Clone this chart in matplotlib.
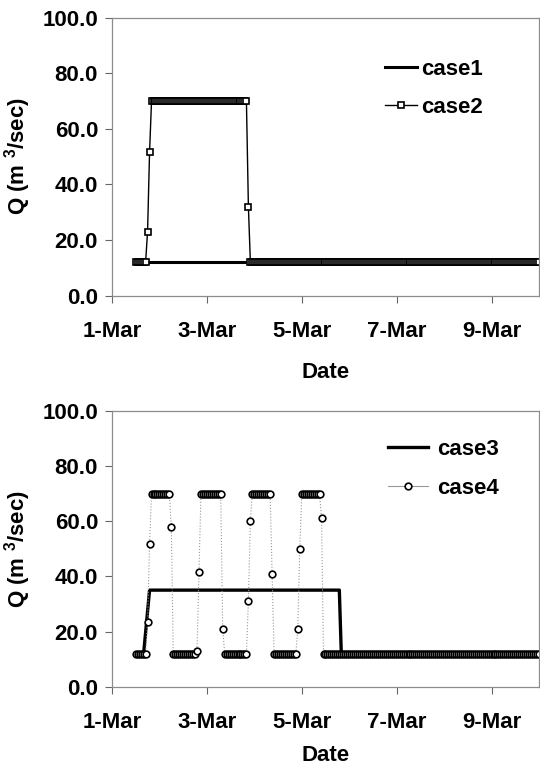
import numpy as np
import pandas as pd
import matplotlib
matplotlib.use("Agg")
import matplotlib.pyplot as plt
import matplotlib.dates as mdates
from matplotlib.ticker import FormatStrFormatter

plt.rcParams['font.family'] = ['Liberation Sans', 'DejaVu Sans']
plt.rcParams['font.weight'] = 'bold'
plt.rcParams['mathtext.fontset'] = 'custom'
plt.rcParams['mathtext.rm'] = 'Liberation Sans:bold'
plt.rcParams['mathtext.bf'] = 'Liberation Sans:bold'

# hourly series, stored as runs: (level, number of hourly readings)
start = '2000-03-01 12:00'
case2_levels = [12, 23, 51.5, 70, 32, 12]
case2_runs = [6, 1, 1, 49, 1, 147]

case4_levels = [12, 23.3, 51.6, 70, 58, 12, 13, 41.5, 70, 21, 12, 31, 60, 70, 41,
                12, 21, 50, 70, 61, 12]
case4_runs = [6, 1, 1, 10, 1, 12, 1, 1, 11, 1, 12, 1, 1, 10, 1, 12, 1, 1, 10, 1, 110]

# constant / step cases, stored as vertices
case1_time = ['2000-03-01 12:00', '2000-03-10 00:00']
case1_q = [12, 12]
case3_time = ['2000-03-01 12:00', '2000-03-01 16:00', '2000-03-01 19:00',
              '2000-03-05 19:00', '2000-03-05 20:00', '2000-03-10 00:00']
case3_q = [12, 12, 35, 35, 12, 12]

yticks = [0, 20, 40, 60, 80, 100]
xticks = ['2000-03-01', '2000-03-03', '2000-03-05', '2000-03-07', '2000-03-09']

case2 = np.repeat(case2_levels, case2_runs)
case4 = np.repeat(case4_levels, case4_runs)
t2 = pd.date_range(start, periods=len(case2), freq='h')
t4 = pd.date_range(start, periods=len(case4), freq='h')

fig = plt.figure(figsize=(5.4, 7.71), dpi=100)
ax1 = fig.add_axes([0.2074, 0.6167, 0.7907, 0.3606])
ax2 = fig.add_axes([0.2074, 0.1093, 0.7907, 0.3580])

ax1.plot(pd.to_datetime(case1_time), case1_q, color='black', lw=2.2, label='case1')
ax1.plot(t2, case2, color='black', lw=1, marker='s', ms=4.6, mfc='white', mec='black',
         mew=1.2, label='case2')

ax2.plot(pd.to_datetime(case3_time), case3_q, color='black', lw=2.4, label='case3')
ax2.plot(t4, case4, color='0.6', lw=0.8, ls=':', marker='o', ms=4.8, mfc='white',
         mec='black', mew=1.2, label='case4')

for ax, lp in ((ax1, 15), (ax2, 9)):
    ax.set_xlim(pd.Timestamp('2000-03-01'), pd.Timestamp('2000-03-10'))
    ax.set_ylim(0, 100)
    ax.set_yticks(yticks)
    ax.yaxis.set_major_formatter(FormatStrFormatter('%.1f'))
    ax.set_xticks(pd.to_datetime(xticks))
    ax.xaxis.set_major_formatter(mdates.DateFormatter('%-d-%b'))
    ax.tick_params(axis='y', direction='out', length=5, width=0.8, color='0.4',
                   labelsize=16, pad=5)
    ax.tick_params(axis='x', direction='out', length=5, width=0.8, color='0.4',
                   labelsize=16, pad=13)
    for s in ax.spines.values():
        s.set_color('0.55')
        s.set_linewidth(0.9)
    ax.set_xlabel('Date', fontsize=16, fontweight='bold', labelpad=lp)
    ax.set_ylabel('Q (m $^{3}$/sec)', fontsize=16, fontweight='bold', labelpad=7)

leg1 = ax1.legend(loc='upper left', bbox_to_anchor=(0.64, 0.85), frameon=False,
                  fontsize=16, borderaxespad=0, borderpad=0, handlelength=1.45,
                  handletextpad=0.15, labelspacing=0.75)
leg2 = ax2.legend(loc='upper left', bbox_to_anchor=(0.646, 0.897), frameon=False,
                  fontsize=16, borderaxespad=0, borderpad=0, handlelength=1.8,
                  handletextpad=0.4, labelspacing=0.8)
for ln in leg2.get_lines():
    if ln.get_linestyle() == ':':
        ln.set_linestyle('-')

fig.savefig('out.png', dpi=100)
